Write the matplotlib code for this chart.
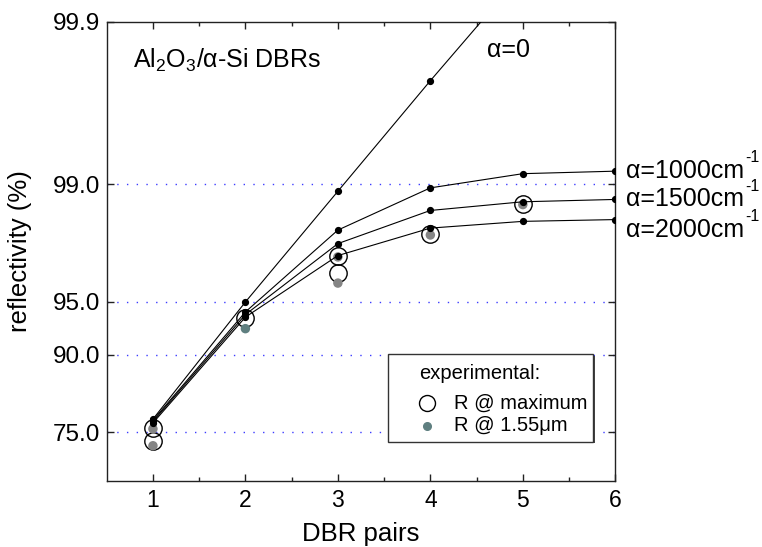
import numpy as np
import matplotlib
matplotlib.use("Agg")
import matplotlib.pyplot as plt
from matplotlib.lines import Line2D
from matplotlib.patches import Rectangle

plt.rcParams["font.family"] = ["Liberation Sans", "DejaVu Sans"]
plt.rcParams["mathtext.fontset"] = "custom"
plt.rcParams["mathtext.rm"] = "Liberation Sans"
plt.rcParams["mathtext.it"] = "Liberation Sans:italic"
plt.rcParams["mathtext.bf"] = "Liberation Sans:bold"

# ---- data -------------------------------------------------------------
pairs = [1, 2, 3, 4, 5, 6]
pairs_a0 = [1, 2, 3, 4, 5]
r_alpha0 = [78.6, 95.0, 98.90, 99.77, 99.95]
r_alpha1000 = [78.3, 94.3, 98.13, 98.95, 99.14, 99.17]
r_alpha1500 = [78.0, 94.1, 97.75, 98.57, 98.73, 98.77]
r_alpha2000 = [77.6, 93.9, 97.35, 98.18, 98.34, 98.38]

exp_pairs = [1, 1, 2, 3, 3, 4, 5]
r_exp_max = [76.3, 72.3, 93.8, 97.32, 96.62, 98.03, 98.69]
r_exp_155 = [76.0, 70.7, 92.9, 97.30, 96.14, 98.00, 98.68]

y_ticks = [75.0, 90.0, 95.0, 99.0, 99.9]
y_ticklabels = ["75.0", "90.0", "95.0", "99.0", "99.9"]
x_ticks = [1, 2, 3, 4, 5, 6]

# ---- nonlinear reflectivity axis ---------------------------------------
# piecewise-linear in -log10(1-R) between the labelled reflectivities
SCALE_R = np.array([75.0, 90.0, 95.0, 99.0, 99.9])
SCALE_H = np.array([48.7, 126.3, 179.0, 296.7, 459.0])
SCALE_T = -np.log10(1.0 - SCALE_R / 100.0)


def _interp_ext(x, xp, fp):
    x = np.asarray(x, dtype=float)
    y = np.interp(x, xp, fp)
    lo_slope = (fp[1] - fp[0]) / (xp[1] - xp[0])
    hi_slope = (fp[-1] - fp[-2]) / (xp[-1] - xp[-2])
    y = np.where(x < xp[0], fp[0] + (x - xp[0]) * lo_slope, y)
    y = np.where(x > xp[-1], fp[-1] + (x - xp[-1]) * hi_slope, y)
    return y


def refl_forward(r):
    r = np.asarray(r, dtype=float)
    t = -np.log10(np.clip(1.0 - r / 100.0, 1e-9, None))
    return _interp_ext(t, SCALE_T, SCALE_H)


def refl_inverse(h):
    t = _interp_ext(h, SCALE_H, SCALE_T)
    return 100.0 * (1.0 - 10.0 ** (-t))


# ---- figure -----------------------------------------------------------
W, H = 762, 547
fig = plt.figure(figsize=(W / 100, H / 100), dpi=100)
L, R, T, B = 106.7, 615.3, 22.0, 481.0
ax = fig.add_axes([L / W, 1 - B / H, (R - L) / W, (B - T) / H])

ax.set_yscale("function", functions=(refl_forward, refl_inverse))
ax.set_ylim(float(refl_inverse(0.0)), 99.9)
ax.set_xlim(0.5, 6)

for v in y_ticks[:-1]:
    ax.axhline(v, color="#3c3cff", lw=1.0, ls=(0, (1, 6)), zorder=1)

# experimental values
ax.plot(exp_pairs, r_exp_max, ls="none", marker="o", ms=12.5, mfc="none",
        mec="black", mew=1.0, zorder=3)
gray_colors = ["#858585", "#858585", "#5f7f80", "#858585", "#858585",
               "#858585", "#858585"]
ax.scatter(exp_pairs, r_exp_155, s=6.8 ** 2, c=gray_colors, lw=0, zorder=4)

# transfer-matrix curves
line_kw = dict(color="black", lw=0.8, marker="o", ms=4.2, zorder=5)
ax.plot(pairs_a0, r_alpha0, **line_kw)
ax.plot(pairs, r_alpha1000, **line_kw)
ax.plot(pairs, r_alpha1500, **line_kw)
ax.plot(pairs, r_alpha2000, **line_kw)

# ticks
ax.set_xticks(x_ticks)
ax.set_xticks([1.5, 2.5, 3.5, 4.5, 5.5], minor=True)
ax.set_yticks(y_ticks)
ax.set_yticklabels(y_ticklabels)
ax.yaxis.set_minor_locator(matplotlib.ticker.NullLocator())
ax.tick_params(axis="both", which="both", direction="in", top=True,
               right=True, width=1.0, color="#222222")
ax.tick_params(axis="both", which="major", length=5)
ax.tick_params(axis="x", which="minor", length=3)
ax.tick_params(axis="x", which="major", labelsize=16.5, pad=5.5)
ax.tick_params(axis="y", which="major", labelsize=17.5, pad=4.5)
for s in ax.spines.values():
    s.set_linewidth(1.0)
    s.set_color("#222222")

ax.set_xlabel("DBR pairs", fontsize=18.5, va="top")
ax.xaxis.set_label_coords(0.5, -0.090)
ax.set_ylabel("reflectivity (%)", fontsize=18.5)
ax.yaxis.set_label_coords(-0.147, 0.5)

# annotations
ax.text((133.3 - L) / (R - L), (B - 67.3) / (B - T),
        r"Al$_2$O$_3$/α-Si DBRs", transform=ax.transAxes,
        fontsize=18, va="baseline", ha="left")
ax.text((487 - L) / (R - L), (B - 57) / (B - T), "α=0",
        transform=ax.transAxes, fontsize=18, va="baseline", ha="left")

curve_labels = [("α=1000cm", r_alpha1000[-1], 0.0),
                ("α=1500cm", r_alpha1500[-1], 0.0),
                ("α=2000cm", r_alpha2000[-1], -7.5)]
for txt, yv, dy in curve_labels:
    t = ax.annotate(txt, xy=(6, yv), xycoords="data",
                    xytext=(7.5, dy), textcoords="offset points",
                    fontsize=18, ha="left", va="center",
                    annotation_clip=False)
    ax.annotate("-1", xy=(1, 1), xycoords=t, xytext=(1.0, 1.0),
                textcoords="offset points", fontsize=11.5,
                ha="left", va="center", annotation_clip=False)


# legend box
def fpx(x, y):
    return (x / W, 1 - y / H)


bx0, by0, bx1, by1 = 388.3, 354.0, 593.3, 441.7
shadow = Rectangle(fpx(bx0 + 1.6, by1 + 1.6), (bx1 - bx0) / W,
                   (by1 - by0) / H, transform=fig.transFigure,
                   facecolor="#444444", edgecolor="none", zorder=9)
box = Rectangle(fpx(bx0, by1), (bx1 - bx0) / W, (by1 - by0) / H,
                transform=fig.transFigure, facecolor="white",
                edgecolor="#333333", lw=1.0, zorder=10)
fig.add_artist(shadow)
fig.add_artist(box)
fig.text(*fpx(419, 373.3), "experimental:", fontsize=14.5,
         ha="left", va="center", zorder=11)
fig.add_artist(Line2D([426.5 / W], [1 - 403.3 / H], transform=fig.transFigure,
                      marker="o", ms=11.5, mfc="none", mec="black", mew=1.0,
                      ls="none", zorder=11))
fig.text(*fpx(454, 403.3), "R @ maximum", fontsize=14.5,
         ha="left", va="center", zorder=11)
fig.add_artist(Line2D([426.5 / W], [1 - 425.5 / H], transform=fig.transFigure,
                      marker="o", ms=5.5, mfc="#5f7f80", mec="#5f7f80",
                      ls="none", zorder=11))
fig.text(*fpx(454, 425.5), "R @ 1.55μm", fontsize=14.5,
         ha="left", va="center", zorder=11)

fig.savefig("out.png", dpi=100)
